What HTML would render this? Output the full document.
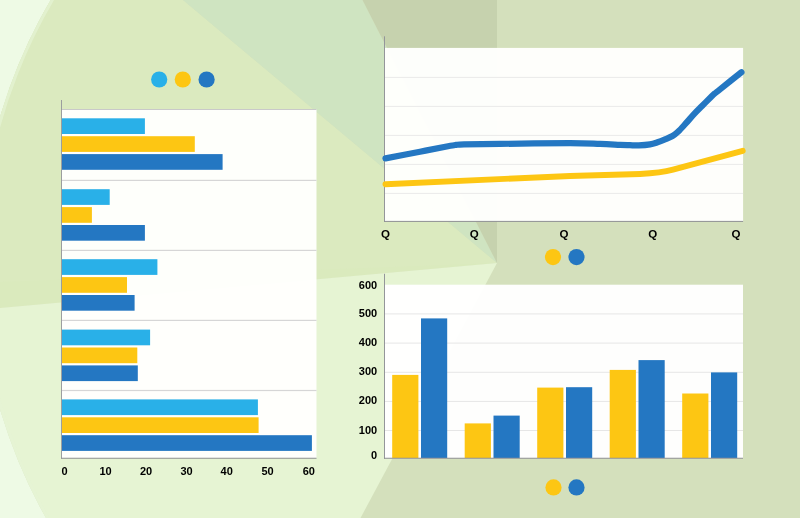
<!DOCTYPE html>
<html><head><meta charset="utf-8"><title>Charts</title>
<style>
html,body{margin:0;padding:0;background:#eefae5;}
body{width:800px;height:518px;overflow:hidden;}
svg{display:block;}
svg text{font-family:"Liberation Sans",sans-serif;font-weight:bold;font-size:11px;fill:#000;}
</style></head><body>
<svg width="800" height="518" viewBox="0 0 800 518">
<defs><clipPath id="cc"><circle cx="497" cy="263" r="518"/></clipPath></defs>
<rect width="800" height="518" fill="#eefae5"/>
<g clip-path="url(#cc)">
<rect width="800" height="518" fill="#d4e0bc"/>
<polygon points="497.0,263.0 -994.0,398.0 -1500.0,-1500.0 -445.0,-526.0" fill="#dbeabf"/>
<polygon points="497.0,263.0 -994.0,320.0 -994.0,398.0" fill="#daeabd"/>
<polygon points="497.0,263.0 -445.0,-526.0 93.5,-526.0" fill="#cfe4c1"/>
<polygon points="497.0,263.0 93.5,-526.0 497.0,-526.0" fill="#c6d2ae"/>
<polygon points="497.0,263.0 87.5,1028.0 -1500.0,2000.0 -994.0,398.0" fill="#e6f4d3"/>
</g>
<circle cx="497" cy="263" r="516.5" fill="none" stroke="#e6f3d4" stroke-width="3" opacity="0.7"/>
<rect x="62" y="109" width="254.5" height="349" fill="#fffffd" fill-opacity="0.97"/>
<rect x="62" y="109" width="254.5" height="1" fill="#c9c9c9"/>
<rect x="62" y="179.8" width="254.5" height="1.2" fill="#d6d6d6"/>
<rect x="62" y="249.8" width="254.5" height="1.2" fill="#d6d6d6"/>
<rect x="62" y="319.8" width="254.5" height="1.2" fill="#d6d6d6"/>
<rect x="62" y="389.9" width="254.5" height="1.2" fill="#d6d6d6"/>
<rect x="62" y="118.3" width="82.9" height="15.7" fill="#29b0e8"/>
<rect x="62" y="136.2" width="132.8" height="15.7" fill="#fdc613"/>
<rect x="62" y="154.1" width="160.6" height="15.7" fill="#2477c2"/>
<rect x="62" y="189.2" width="47.7" height="15.7" fill="#29b0e8"/>
<rect x="62" y="207.1" width="29.9" height="15.7" fill="#fdc613"/>
<rect x="62" y="225.0" width="82.9" height="15.7" fill="#2477c2"/>
<rect x="62" y="259.2" width="95.4" height="15.7" fill="#29b0e8"/>
<rect x="62" y="277.1" width="65.0" height="15.7" fill="#fdc613"/>
<rect x="62" y="295.0" width="72.6" height="15.7" fill="#2477c2"/>
<rect x="62" y="329.6" width="88.1" height="15.7" fill="#29b0e8"/>
<rect x="62" y="347.5" width="75.3" height="15.7" fill="#fdc613"/>
<rect x="62" y="365.4" width="75.8" height="15.7" fill="#2477c2"/>
<rect x="62" y="399.4" width="195.9" height="15.7" fill="#29b0e8"/>
<rect x="62" y="417.3" width="196.6" height="15.7" fill="#fdc613"/>
<rect x="62" y="435.2" width="249.9" height="15.7" fill="#2477c2"/>
<rect x="61.1" y="100" width="0.9" height="358.7" fill="#94969a"/>
<rect x="61.1" y="457.75" width="255.4" height="1" fill="#8e9093"/>
<circle cx="159.2" cy="79.5" r="8.1" fill="#29b0e8"/>
<circle cx="182.8" cy="79.5" r="8.1" fill="#fdc613"/>
<circle cx="206.6" cy="79.5" r="8.1" fill="#2477c2"/>
<text x="64.5" y="475.2" text-anchor="middle">0</text>
<text x="105.5" y="475.2" text-anchor="middle">10</text>
<text x="146.0" y="475.2" text-anchor="middle">20</text>
<text x="186.5" y="475.2" text-anchor="middle">30</text>
<text x="226.7" y="475.2" text-anchor="middle">40</text>
<text x="267.6" y="475.2" text-anchor="middle">50</text>
<text x="308.8" y="475.2" text-anchor="middle">60</text>
<rect x="384.5" y="47.9" width="358.6" height="173.6" fill="#fffffd" fill-opacity="0.97"/>
<rect x="384.5" y="76.9" width="358.6" height="1" fill="#eaeae9"/>
<rect x="384.5" y="105.9" width="358.6" height="1" fill="#eaeae9"/>
<rect x="384.5" y="134.9" width="358.6" height="1" fill="#eaeae9"/>
<rect x="384.5" y="163.9" width="358.6" height="1" fill="#eaeae9"/>
<rect x="384.5" y="192.9" width="358.6" height="1" fill="#eaeae9"/>
<rect x="384" y="36.3" width="1" height="185.6" fill="#94969a"/>
<rect x="384" y="220.9" width="359.1" height="1" fill="#8e9093"/>
<path d="M385.5,184.2 L570,176 L640,174 Q661,173 673,169.7 L742.7,150.8" fill="none" stroke="#fdc613" stroke-width="5.9" stroke-linecap="round" stroke-linejoin="round"/>
<path d="M385.50,158.40 C391.25,157.28 409.58,153.73 420.00,151.70 C430.42,149.67 442.00,147.33 448.00,146.20 C454.00,145.07 453.33,145.20 456.00,144.90 C458.67,144.60 456.67,144.57 464.00,144.40 C471.33,144.23 482.33,144.12 500.00,143.90 C517.67,143.68 553.33,143.10 570.00,143.10 C586.67,143.10 591.67,143.62 600.00,143.90 C608.33,144.18 615.00,144.58 620.00,144.80 C625.00,145.02 626.88,145.10 630.00,145.20 C633.12,145.30 635.42,145.53 638.75,145.40 C642.08,145.27 646.88,144.92 650.00,144.40 C653.12,143.88 655.00,143.13 657.50,142.30 C660.00,141.47 662.50,140.45 665.00,139.40 C667.50,138.35 670.33,137.27 672.50,136.00 C674.67,134.73 675.75,133.93 678.00,131.80 C680.25,129.67 683.33,126.15 686.00,123.20 C688.67,120.25 691.33,116.97 694.00,114.10 C696.67,111.23 699.17,108.85 702.00,106.00 C704.83,103.15 708.92,99.05 711.00,97.00 C713.08,94.95 713.00,94.98 714.50,93.70 C716.00,92.42 715.52,92.87 720.00,89.30 C724.48,85.73 737.83,75.13 741.40,72.30" fill="none" stroke="#2477c2" stroke-width="6.2" stroke-linecap="round" stroke-linejoin="round"/>
<text transform="translate(385.5,237.9) scale(1.1,1)" text-anchor="middle" style="font-size:10.5px">Q</text>
<text transform="translate(474.3,237.9) scale(1.1,1)" text-anchor="middle" style="font-size:10.5px">Q</text>
<text transform="translate(564.0,237.9) scale(1.1,1)" text-anchor="middle" style="font-size:10.5px">Q</text>
<text transform="translate(652.7,237.9) scale(1.1,1)" text-anchor="middle" style="font-size:10.5px">Q</text>
<text transform="translate(736.0,237.9) scale(1.1,1)" text-anchor="middle" style="font-size:10.5px">Q</text>
<circle cx="553.0" cy="257.1" r="8.1" fill="#fdc613"/>
<circle cx="553.5" cy="487.4" r="8.1" fill="#fdc613"/>
<circle cx="576.5" cy="257.1" r="8.1" fill="#2477c2"/>
<circle cx="576.5" cy="487.4" r="8.1" fill="#2477c2"/>
<rect x="385" y="284.7" width="358" height="173.5" fill="#ffffff" fill-opacity="0.97"/>
<rect x="385" y="313.4" width="358" height="1" fill="#e6e6e6"/>
<rect x="385" y="342.6" width="358" height="1" fill="#e6e6e6"/>
<rect x="385" y="371.8" width="358" height="1" fill="#e6e6e6"/>
<rect x="385" y="400.9" width="358" height="1" fill="#e6e6e6"/>
<rect x="385" y="430.0" width="358" height="1" fill="#e6e6e6"/>
<rect x="392.2" y="374.9" width="26.2" height="83.1" fill="#fdc613"/>
<rect x="421.0" y="318.4" width="26.2" height="139.6" fill="#2477c2"/>
<rect x="464.7" y="423.4" width="26.2" height="34.6" fill="#fdc613"/>
<rect x="493.5" y="415.6" width="26.2" height="42.4" fill="#2477c2"/>
<rect x="537.2" y="387.6" width="26.2" height="70.4" fill="#fdc613"/>
<rect x="566.0" y="387.2" width="26.2" height="70.8" fill="#2477c2"/>
<rect x="609.7" y="369.9" width="26.2" height="88.1" fill="#fdc613"/>
<rect x="638.5" y="360.1" width="26.2" height="97.9" fill="#2477c2"/>
<rect x="682.2" y="393.5" width="26.2" height="64.5" fill="#fdc613"/>
<rect x="711.0" y="372.4" width="26.2" height="85.6" fill="#2477c2"/>
<rect x="384" y="273.8" width="1" height="185" fill="#94969a"/>
<rect x="384" y="457.75" width="359" height="1" fill="#8e9093"/>
<text x="377.2" y="289.1" text-anchor="end">600</text>
<text x="377.2" y="317.3" text-anchor="end">500</text>
<text x="377.2" y="346.4" text-anchor="end">400</text>
<text x="377.2" y="375.3" text-anchor="end">300</text>
<text x="377.2" y="403.9" text-anchor="end">200</text>
<text x="377.2" y="434.3" text-anchor="end">100</text>
<text x="377.2" y="458.8" text-anchor="end">0</text>
</svg>
</body></html>
